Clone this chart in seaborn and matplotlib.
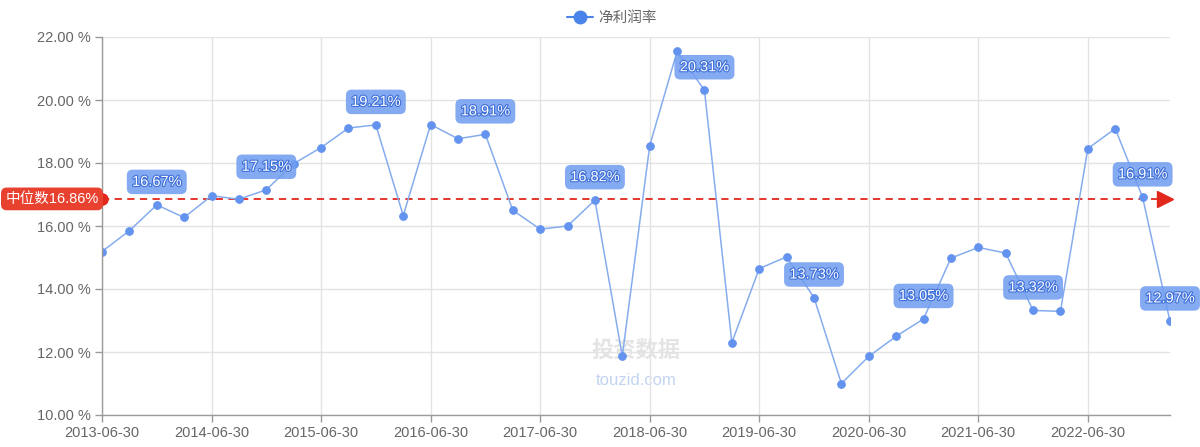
import numpy as np
import pandas as pd
import matplotlib
matplotlib.use("Agg")
import matplotlib.pyplot as plt
import matplotlib.patheffects as pe
import seaborn as sns

# quarterly net profit margin (%), 2013-06-30 .. 2023-03-31
dates = pd.date_range("2013-06-30", periods=40, freq="QE").strftime("%Y-%m-%d").tolist()
margin = [15.19, 15.85, 16.67, 16.27, 16.96, 16.85, 17.15, 17.98, 18.49, 19.11,
          19.21, 16.33, 19.22, 18.77, 18.91, 16.50, 15.90, 16.00, 16.82, 11.87,
          18.55, 21.54, 20.31, 12.30, 14.65, 15.02, 13.73, 11.00, 11.86, 12.50,
          13.05, 14.98, 15.32, 15.14, 13.32, 13.29, 18.46, 19.09, 16.91, 12.97]
median_value = 16.86
series_name = "净利润率"
median_text = "中位数16.86%"

sns.set_theme(style="whitegrid")
plt.rcParams["font.family"] = ["Liberation Sans", "Noto Sans CJK SC", "DejaVu Sans"]

df = pd.DataFrame({"idx": range(len(dates)), "date": dates, "value": margin})

fig = plt.figure(figsize=(12, 4.47), dpi=100)
ax = fig.add_axes([102 / 1200, 1 - 415 / 447, (1170 - 102) / 1200, (415 - 37) / 447])

line_color = "#86acee"
dot_color = "#6393ee"
sns.lineplot(data=df, x="idx", y="value", ax=ax, color=line_color, linewidth=1.1,
             marker="o", markersize=5.5, markerfacecolor=dot_color,
             markeredgecolor=dot_color, label=series_name, legend=False)

# median line with red marker and arrow
red = "#e2271d"
ax.axhline(median_value, color=red, linestyle=(0, (4, 3)), linewidth=1.3, zorder=1)
ax.plot([0], [median_value], "o", color=red, markersize=8, clip_on=False, zorder=5)
ax.plot([len(dates) - 1.2], [median_value], marker=">", color=red, markersize=11,
        clip_on=False, zorder=5)
ax.annotate(median_text, xy=(0, median_value), xytext=(-50, 0), textcoords="offset pixels",
            ha="center", va="center", color="white", fontsize=10.5,
            bbox=dict(boxstyle="round,pad=0.3,rounding_size=0.4", fc="#e8412f", ec="none"),
            annotation_clip=False, zorder=6)

# value labels (every December + the last point)
label_idx = list(range(2, len(dates), 4)) + [len(dates) - 1]
for i in label_idx:
    ax.annotate(f"{margin[i]:.2f}%", xy=(i, margin[i]), xytext=(0, 23),
                textcoords="offset pixels", ha="center", va="center",
                color="white", fontsize=10.5,
                path_effects=[pe.withStroke(linewidth=1.6, foreground="#3e6fd8")],
                bbox=dict(boxstyle="round,pad=0.36,rounding_size=0.4",
                          fc="#6f9df0", ec="none", alpha=0.85),
                annotation_clip=False, zorder=7)

# watermark
ax.text(0.5, 0.17, "投资数据", transform=ax.transAxes, ha="center", va="center",
        fontsize=16, fontweight="bold", color="#dedede", alpha=0.8, zorder=0)
ax.text(0.5, 0.09, "touzid.com", transform=ax.transAxes, ha="center", va="center",
        fontsize=12, color="#bcd0f0", alpha=0.9, zorder=0)

ax.set_xlim(0, len(dates) - 1)
ax.set_ylim(10, 22)
tick_pos = list(range(0, len(dates), 4))
ax.set_xticks(tick_pos)
ax.set_xticklabels([dates[i] for i in tick_pos])
ax.set_yticks(np.arange(10, 22.1, 2))
ax.set_yticklabels([f"{v:.2f} %" for v in np.arange(10, 22.1, 2)])
ax.set_xlabel("")
ax.set_ylabel("")

ax.grid(True, color="#e3e3e3", linewidth=1)
ax.set_facecolor("white")
for side in ["top", "right"]:
    ax.spines[side].set_visible(False)
for side in ["left", "bottom"]:
    ax.spines[side].set_color("#9a9a9a")
    ax.spines[side].set_linewidth(1)
ax.tick_params(axis="both", colors="#9a9a9a", labelcolor="#666666", labelsize=10.5,
               length=5, width=1, direction="out", bottom=True, left=True, pad=3)

handle = plt.Line2D([], [], color="#4a84ea", marker="o", markersize=9, linewidth=1.5)
fig.legend([handle], [series_name], loc="upper center", bbox_to_anchor=(0.51, 1.005),
           frameon=False, fontsize=10.5, labelcolor="#666666", handlelength=1.8,
           handletextpad=0.4)

fig.savefig("out.png", dpi=100)
